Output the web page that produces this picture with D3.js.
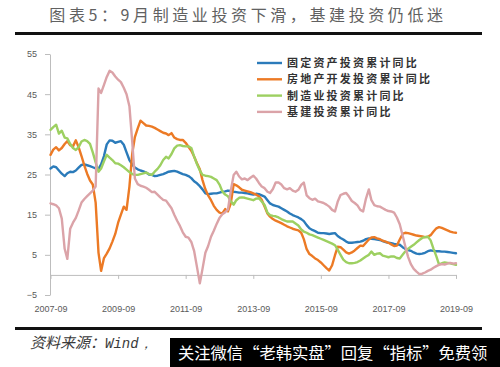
<!DOCTYPE html>
<html><head><meta charset="utf-8">
<script src="https://cdn.jsdelivr.net/npm/d3@7"></script>
<style>
html,body{margin:0;padding:0;background:#fff;}
svg{display:block;}
</style></head>
<body>
<svg id="chart" width="500" height="367"></svg>
<script>
// ---------------- DATA ----------------
const titleText = "图表5：9月制造业投资下滑，基建投资仍低迷";
const seriesNames = ["固定资产投资累计同比", "房地产开发投资累计同比", "制造业投资累计同比", "基建投资累计同比"];
const seriesColors = ["#2b7bba", "#ec7a25", "#9dd061", "#dba3a8"];
const startMonth = "2007-09";
const endMonth = "2019-09";
const xTickLabels = ["2007-09", "2009-09", "2011-09", "2013-09", "2015-09", "2017-09", "2019-09"];
const yTickValues = [-5, 5, 15, 25, 35, 45, 55];

// monthly values, 2007-09 .. 2019-09
const fixedAsset = [26.5,27.0,26.8,26.0,25.2,24.6,25.3,25.7,25.6,26.0,26.7,27.4,27.5,27.3,27.1,26.8,26.5,26.4,27.5,29.6,
32.5,33.5,33.4,32.9,33.1,33.3,32.4,30.5,28.6,27.5,26.7,26.3,26.0,25.8,25.5,25.0,24.9,24.6,24.7,24.9,
25.1,25.4,25.7,25.8,25.9,25.7,25.4,25.1,24.9,24.6,24.1,23.3,22.8,22.1,21.3,20.3,20.1,20.2,20.3,20.3,
20.5,20.7,20.8,21.0,20.9,20.7,20.6,20.5,20.5,20.4,20.3,20.1,20.0,20.2,20.1,19.8,19.5,18.6,17.8,17.4,
17.2,17.0,16.6,16.2,15.8,15.3,14.9,14.6,14.3,13.9,13.4,12.4,11.6,11.2,10.9,10.5,10.4,10.4,10.3,10.2,
10.3,10.4,9.7,9.2,8.8,8.3,8.0,8.0,8.1,8.2,8.3,8.5,8.9,9.1,9.0,8.9,8.8,8.7,8.4,8.2,
8.0,7.9,7.7,7.6,7.5,6.9,6.5,6.2,6.0,5.6,5.3,5.2,5.3,5.5,5.9,6.1,6.0,5.9,5.9,5.8,
5.8,5.7,5.6,5.5,5.4];
const realEstate = [29.9,31.2,31.8,31.0,31.6,32.6,33.3,32.3,32.0,33.5,31.8,29.6,27.2,25.2,23.5,22.5,18.0,5.5,1.0,4.2,
5.3,6.6,8.3,10.2,13.0,15.0,17.0,16.2,22.0,30.3,34.3,36.5,38.4,37.8,37.2,37.1,36.9,36.6,36.2,35.8,
35.4,35.2,34.8,35.3,34.2,33.8,33.6,33.6,32.9,31.9,30.9,29.5,27.8,26.3,23.6,21.3,19.8,18.6,17.2,16.2,
15.5,15.3,16.4,15.8,17.8,22.6,22.3,21.8,21.2,21.0,20.8,20.6,20.3,20.0,19.6,18.7,17.0,15.3,14.5,13.9,
13.5,13.2,12.9,12.5,12.1,11.8,11.5,11.3,11.1,10.5,8.9,6.4,5.2,4.7,4.1,3.7,3.1,2.4,1.7,1.1,
2.4,4.9,7.0,6.9,6.3,5.6,5.3,5.6,6.1,6.7,7.3,7.2,8.0,8.8,9.3,9.4,9.1,8.9,8.5,8.3,
8.0,7.6,7.2,7.3,8.8,10.2,10.5,10.4,10.2,10.0,9.8,9.7,9.6,9.4,9.5,9.9,10.8,11.6,11.9,11.7,
11.4,11.1,10.8,10.6,10.5];
const manufacturing = [36.1,36.8,37.4,35.2,35.9,34.2,34.0,32.6,31.6,31.1,31.8,33.2,33.6,33.3,32.6,30.5,28.0,25.7,26.5,28.3,
29.9,29.2,28.6,27.8,27.7,27.3,26.8,26.2,25.6,25.1,24.9,24.9,25.1,25.3,25.5,25.1,24.9,25.7,26.4,27.3,
28.6,29.4,29.0,30.1,31.5,32.2,32.3,32.1,32.0,32.0,31.6,29.5,27.6,26.0,24.9,24.7,24.6,24.4,24.0,23.6,
22.5,20.8,20.0,19.6,18.3,17.5,18.6,19.2,19.3,19.2,19.0,18.8,18.6,19.0,19.1,18.3,17.4,15.5,14.9,14.7,
14.6,14.3,13.9,13.6,13.3,13.3,13.3,12.8,12.3,11.3,10.8,10.5,10.1,9.9,9.6,9.3,9.0,8.7,8.4,8.1,
7.8,7.4,6.3,5.0,3.8,3.2,2.9,2.9,3.0,3.2,3.6,4.1,4.6,5.0,5.8,5.0,5.3,5.4,4.8,4.6,
4.4,4.6,4.6,4.2,4.1,5.0,5.8,6.5,7.0,7.5,8.1,8.7,9.2,9.4,9.5,8.6,6.5,4.6,2.6,2.9,
3.1,3.0,2.9,2.7,2.5];
const infrastructure = [17.8,17.6,17.3,16.6,14.0,6.5,4.0,11.5,13.0,14.2,16.0,18.0,18.9,19.6,20.3,21.0,22.0,46.4,45.3,47.3,
49.3,50.8,50.4,49.4,48.6,48.0,46.6,45.0,42.0,33.0,24.0,22.6,22.2,22.0,21.7,21.2,20.6,20.7,20.0,19.3,
18.7,18.5,17.6,16.6,15.0,13.5,12.2,10.6,9.5,9.3,8.2,6.0,2.0,-2.1,1.5,5.5,7.2,9.5,11.0,12.7,
14.2,15.1,15.6,16.3,21.0,24.9,25.7,24.5,23.8,24.0,23.6,24.2,24.7,24.0,22.9,22.0,21.6,20.7,20.4,21.4,
23.0,23.0,22.5,21.6,21.3,21.6,21.0,20.7,21.2,22.4,23.0,19.8,19.1,18.7,19.0,18.3,18.1,17.9,17.5,17.0,
16.2,15.8,18.2,19.9,20.2,20.4,19.5,18.4,17.9,17.3,16.2,15.8,19.0,21.3,18.6,17.4,17.1,17.0,16.6,16.2,
15.9,15.8,15.5,14.3,12.6,9.8,7.2,4.5,2.7,1.5,0.8,0.2,0.3,0.6,1.0,1.3,1.8,2.2,2.5,2.7,
2.6,2.8,3.0,2.8,2.9];
const footerSource = "资料来源：";
const footerSource2 = "Wind，";
const overlayText = "关注微信“老韩实盘”回复“指标”免费领";

// ---------------- CHART ----------------
const svg = d3.select("#chart");
const parse = d3.timeParse("%Y-%m");
const months = d3.timeMonth.range(parse(startMonth), d3.timeMonth.offset(parse(endMonth), 1));
const allSeries = [fixedAsset, realEstate, manufacturing, infrastructure];

const x = d3.scaleTime().domain([parse(startMonth), parse(endMonth)]).range([50.5, 456]);
const y = d3.scaleLinear().domain([-5, 55]).range([295, 54]);

// title
svg.append("text")
  .attr("x", 248).attr("y", 21)
  .attr("text-anchor", "middle")
  .attr("font-family", "'Noto Sans CJK SC', sans-serif")
  .attr("font-size", 16).attr("letter-spacing", 3.6)
  .attr("fill", "#616161")
  .text(titleText);

svg.append("rect").attr("x", 15).attr("y", 32).attr("width", 467).attr("height", 3).attr("fill", "#111");
svg.append("rect").attr("x", 15).attr("y", 327).attr("width", 467).attr("height", 3).attr("fill", "#111");

// y axis
const yAxis = d3.axisLeft(y).tickValues(yTickValues).tickSize(5).tickSizeOuter(0).tickPadding(8);
const gy = svg.append("g").attr("transform", "translate(50,0)").call(yAxis);
gy.select(".domain").attr("stroke", "#bdbdbd");
gy.selectAll(".tick line").attr("stroke", "#bdbdbd");
gy.selectAll("text").attr("fill", "#5a5a5a").attr("font-size", 9)
  .attr("font-family", "'Liberation Sans', sans-serif");

// x axis at zero
const xAxis = d3.axisBottom(x)
  .tickValues(xTickLabels.map(parse))
  .tickFormat(d3.timeFormat("%Y-%m"))
  .tickSize(4).tickSizeOuter(0).tickPadding(27);
const gx = svg.append("g").attr("transform", `translate(0,${y(0)})`).call(xAxis);
gx.select(".domain").attr("stroke", "#bdbdbd");
gx.selectAll(".tick line").attr("stroke", "#bdbdbd");
gx.selectAll("text").attr("fill", "#5a5a5a").attr("font-size", 9)
  .attr("font-family", "'Liberation Sans', sans-serif");

// lines
const line = d3.line().x((d, i) => x(months[i])).y(d => y(d)).curve(d3.curveLinear);
allSeries.forEach((s, k) => {
  svg.append("path").datum(s)
    .attr("d", line)
    .attr("fill", "none")
    .attr("stroke", seriesColors[k])
    .attr("stroke-width", 2.4)
    .attr("stroke-linejoin", "round")
    .attr("stroke-linecap", "round");
});

// legend
const lg = svg.append("g");
seriesNames.forEach((n, k) => {
  const ly = 63 + k * 16.3;
  lg.append("line").attr("x1", 257).attr("x2", 282).attr("y1", ly).attr("y2", ly)
    .attr("stroke", seriesColors[k]).attr("stroke-width", 2.4);
  lg.append("text").attr("x", 287).attr("y", ly + 4)
    .attr("font-family", "'Noto Sans CJK SC', sans-serif")
    .attr("font-size", 11).attr("font-weight", "bold").attr("letter-spacing", 2.2)
    .attr("fill", "#333").text(n);
});

// footer
const ft = svg.append("text").attr("x", 30).attr("y", 348)
  .attr("font-size", 15).attr("fill", "#3a3a3a").attr("font-style", "italic");
ft.append("tspan").attr("font-family", "'Noto Sans CJK SC', sans-serif").text(footerSource);
ft.append("tspan").attr("font-family", "'Liberation Mono', monospace").attr("font-size", 14).text(footerSource2);

svg.append("rect").attr("x", 170).attr("y", 338).attr("width", 330).attr("height", 29).attr("fill", "#000");
svg.append("text").attr("x", 178).attr("y", 359)
  .attr("font-family", "'Noto Sans CJK SC', sans-serif")
  .attr("font-size", 16.3).attr("fill", "#fff")
  .text(overlayText);
</script>
</body></html>
